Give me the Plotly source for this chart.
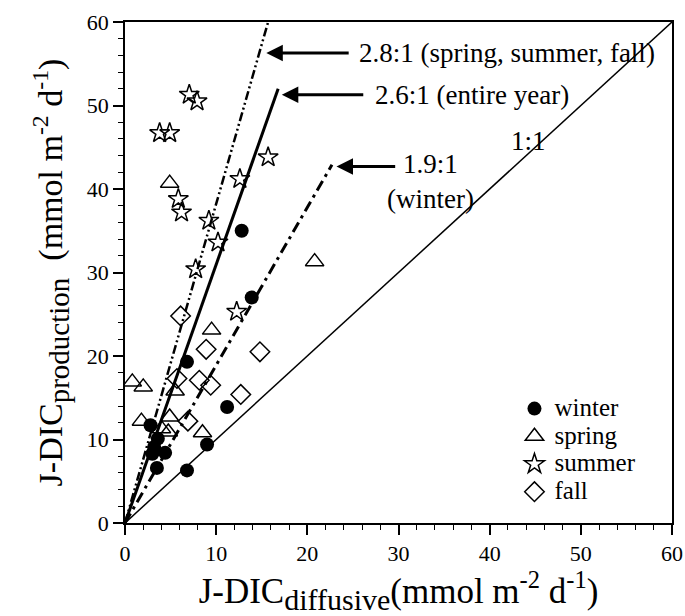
import plotly.graph_objects as go

# ---- data ----
winter_x = [2.8, 3.6, 3.2, 3.0, 4.4, 3.5, 6.8, 9.0, 11.2, 6.8, 13.9, 12.8]
winter_y = [11.7, 10.1, 9.1, 8.3, 8.4, 6.6, 6.3, 9.4, 13.9, 19.3, 27.0, 35.0]

spring_x = [4.9, 20.8, 9.5, 0.8, 2.0, 5.5, 1.8, 4.9, 4.0, 4.75, 8.5]
spring_y = [40.7, 31.3, 23.1, 16.9, 16.3, 15.8, 12.2, 12.7, 11.3, 10.9, 10.8]

summer_x = [7.05, 7.9, 3.8, 4.9, 15.7, 12.6, 5.85, 6.2, 9.2, 10.2, 7.75, 12.25]
summer_y = [51.3, 50.5, 46.7, 46.7, 43.8, 41.2, 38.8, 37.2, 36.2, 33.6, 30.4, 25.3]

fall_x = [6.1, 8.9, 14.8, 8.15, 9.4, 5.7, 12.7, 6.9]
fall_y = [24.8, 20.8, 20.5, 17.1, 16.5, 17.3, 15.4, 12.2]

# reference lines (end points)
line_one_x = [0, 60]
line_one_y = [0, 60]
line_year_x = [0, 16.8]
line_year_y = [0, 52.0]
line_ssf_x = [0, 15.7]
line_ssf_y = [0, 60.0]
line_win_x = [0, 22.7]
line_win_y = [0, 42.9]

# arrow tips / tails and labels
arrow_tip_x = [15.5, 17.2, 23.2]
arrow_tip_y = [56.3, 51.3, 42.7]
arrow_tail_x = [24.7, 26.3, 29.8]
label_x = [25.5, 27.2, 33.5, 44.3]
label_y = [56.3, 51.3, 40.9, 45.8]
label_text = ["2.8:1 (spring, summer, fall)", "2.6:1 (entire year)",
              "1.9:1<br>(winter)", "1:1"]

FONT = "Liberation Serif, Times New Roman, serif"
ANN = dict(size=27, family=FONT, color="black")

fig = go.Figure()

fig.add_trace(go.Scatter(x=line_one_x, y=line_one_y, mode="lines",
                         line=dict(color="black", width=1.5), showlegend=False))
fig.add_trace(go.Scatter(x=line_year_x, y=line_year_y, mode="lines",
                         line=dict(color="black", width=3), showlegend=False))
fig.add_trace(go.Scatter(x=line_ssf_x, y=line_ssf_y, mode="lines",
                         line=dict(color="black", width=2.5,
                                   dash="9px,3px,2px,3px,2px,3px"),
                         showlegend=False))
fig.add_trace(go.Scatter(x=line_win_x, y=line_win_y, mode="lines",
                         line=dict(color="black", width=3,
                                   dash="11px,5px,3px,5px"),
                         showlegend=False))

def lname(s):
    return "<span style='font-size:25px'>" + s + "</span>"

fig.add_trace(go.Scatter(x=winter_x, y=winter_y, mode="markers", name=lname("winter"),
                         marker=dict(symbol="circle", size=14, color="black")))
fig.add_trace(go.Scatter(x=spring_x, y=spring_y, mode="markers", name=lname("spring"),
                         marker=dict(symbol="triangle-up-open", size=16, color="black",
                                     line=dict(width=1.5, color="black"))))
fig.add_trace(go.Scatter(x=summer_x, y=summer_y, mode="markers", name=lname("summer"),
                         marker=dict(symbol="star-open", size=15, color="black",
                                     line=dict(width=1.5, color="black"))))
fig.add_trace(go.Scatter(x=fall_x, y=fall_y, mode="markers", name=lname("fall"),
                         marker=dict(symbol="diamond-open", size=15, color="black",
                                     line=dict(width=1.5, color="black"))))

for i in range(3):
    fig.add_annotation(x=arrow_tip_x[i], y=arrow_tip_y[i], ax=arrow_tail_x[i],
                       ay=arrow_tip_y[i], xref="x", yref="y", axref="x", ayref="y",
                       text="", showarrow=True, arrowhead=2, arrowsize=1.1,
                       arrowwidth=3, arrowcolor="black")

fig.add_annotation(x=label_x[0], y=label_y[0], text=label_text[0], showarrow=False,
                   xanchor="left", yanchor="middle", font=ANN)
fig.add_annotation(x=label_x[1], y=label_y[1], text=label_text[1], showarrow=False,
                   xanchor="left", yanchor="middle", font=ANN)
fig.add_annotation(x=label_x[2], y=label_y[2], text=label_text[2], showarrow=False,
                   xanchor="center", yanchor="middle", align="center", font=ANN)
fig.add_annotation(x=label_x[3], y=label_y[3], text=label_text[3], showarrow=False,
                   xanchor="center", yanchor="middle", font=ANN)

axis_common = dict(
    range=[0, 60], dtick=10, showgrid=False, zeroline=False, automargin=False,
    showline=True, linecolor="black", linewidth=1.5, mirror=True,
    ticks="outside", ticklen=10, tickwidth=1.5, tickcolor="black",
    tickfont=dict(size=22, family=FONT, color="black"),
    minor=dict(dtick=2, ticks="outside", ticklen=5, tickwidth=1.2, tickcolor="black"),
)

fig.update_xaxes(**axis_common,
                 title=dict(text="J-DIC<sub><span style='font-size:30px'>diffusive</span></sub>(mmol m<sup>-2</sup> d<sup>-1</sup>)",
                            font=dict(size=35, family=FONT, color="black"), standoff=8))
fig.update_yaxes(**axis_common,
                 title=dict(text="J-DIC<sub><span style='font-size:29px'>production</span></sub>  (mmol m<sup>-2</sup> d<sup>-1</sup>)",
                            font=dict(size=34, family=FONT, color="black"), standoff=14))

fig.update_layout(
    width=685, height=616,
    margin=dict(l=125, r=13, t=22, b=93, autoexpand=False),
    plot_bgcolor="white", paper_bgcolor="white",
    font=dict(family=FONT, color="black"),
    legend=dict(x=0.712, y=0.266, xanchor="left", yanchor="top",
                bgcolor="rgba(0,0,0,0)", borderwidth=0,
                font=dict(size=19, family=FONT, color="black")),
)

fig.write_html("out.html")
